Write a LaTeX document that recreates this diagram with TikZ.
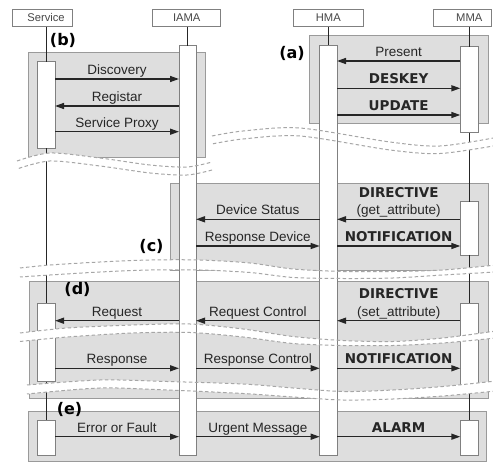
\documentclass[tikz,border=0pt]{standalone}
\usepackage{fontspec}
\setmainfont{Liberation Sans}
\newfontfamily\widefont{DejaVu Sans}
\usetikzlibrary{arrows.meta}

\definecolor{framefill}{HTML}{DEDEDE}
\definecolor{frameline}{HTML}{9A9A9A}
\definecolor{barline}{HTML}{808080}
\definecolor{ink}{HTML}{262626}
\definecolor{breakline}{HTML}{A6A6A6}

\tikzset{
  header/.style={rectangle, draw=barline, fill=white, line width=0.9pt, inner sep=0pt, outer sep=0pt,
    minimum height=17.4pt, font=\fontsize{11.2}{12}\selectfont, text=ink!85},
  hdrtext/.style={font=\fontsize{11.2}{12}\selectfont, text=ink!85, inner sep=0pt},
  phase/.style={rectangle, draw=frameline, fill=framefill, line width=0.9pt, inner sep=0pt, outer sep=0pt},
  actbar/.style={rectangle, draw=barline, fill=white, line width=0.9pt, inner sep=0pt, outer sep=0pt},
  lifeline/.style={draw=ink, line width=0.9pt},
  msg/.style={draw=ink, line width=1.4pt, -{Triangle[length=9pt,width=6pt]}},
  plainlbl/.style={font=\fontsize{13.5}{14}\selectfont, text=ink, inner sep=0pt},
  boldlbl/.style={font=\widefont\bfseries\fontsize{13.5}{14}\selectfont, text=ink, inner sep=0pt},
  phaselbl/.style={font=\widefont\bfseries\fontsize{16}{17}\selectfont, text=black, inner sep=0pt},
  gapedge/.style={draw=breakline, line width=1pt, dash pattern=on 3.5pt off 2.5pt},
}

% time-break bands: upper edge, then lower edge (reversed)
\newcommand\bandfill[2]{\fill[white] plot[smooth] coordinates {#1} -- plot[smooth] coordinates {#2} -- cycle;}
\newcommand\bandedge[2]{\draw[gapedge] plot[smooth] coordinates {#1}; \draw[gapedge] plot[smooth] coordinates {#2};}
\newcommand\allbands[1]{%
  #1{(17,161) (50,153) (100,158) (150,165) (187,167) (212,162)}%
    {(212,170) (187,175) (150,173) (100,166) (50,161) (17,169)}%
  #1{(212,136) (243,131) (300,128) (390,142) (440,146) (496,137.5)}%
    {(496,145.5) (440,153.5) (390,150) (300,136) (243,139) (212,144)}%
  #1{(20,268) (50,265) (100,262) (150,260) (200,260) (250,263) (293,269) (343,271.5) (393,271.5) (443,270) (496,265)}%
    {(496,272) (443,275) (393,278) (343,278.5) (293,277.5) (250,272.5) (200,270) (150,270) (100,272) (50,275) (20,277)}%
  #1{(20,333) (67,328) (133,325) (190,324) (243,329) (293,336.5) (343,340.5) (393,341.5) (443,338) (496,331)}%
    {(496,338) (443,343) (393,345.5) (343,345.5) (293,343.5) (243,337) (190,332.5) (133,333) (67,337) (20,341.5)}%
  #1{(27,385) (100,380) (167,381.5) (243,384) (293,388) (343,391.5) (393,390) (443,386.5) (496,381)}%
    {(496,391) (443,396) (393,399) (343,400) (293,397) (243,393.5) (167,390) (100,388) (27,394)}%
}

\begin{document}
\begin{tikzpicture}[x=1pt,y=-1pt]
\useasboundingbox (0,0) rectangle (493,462);

% phase frames
\node[phase, minimum width=178.3pt, minimum height=88pt]  (frA) at (398.85,79) {};
\node[phase, minimum width=176.7pt, minimum height=105pt] (frB) at (116.65,104.5) {};
\node[phase, minimum width=318pt,   minimum height=86.7pt] (frC) at (329,226.65) {};
\node[phase, minimum width=459pt,   minimum height=117pt] (frD) at (258.5,339.5) {};
\node[phase, minimum width=457.7pt, minimum height=49.3pt] (frE) at (257.15,436.35) {};

% participants
\node[header, minimum width=60.4pt] (svcH) at (42.5,18) {};
\node[hdrtext] (svcT) at (46,18) {Service};
\node[header, minimum width=68pt] (iamaH) at (186.7,18) {IAMA};
\node[header, minimum width=70.7pt] (hmaH) at (328.3,18) {HMA};
\node[header, minimum width=57.8pt] (mmaH) at (462.6,18) {};
\node[hdrtext] (mmaT) at (469.3,18) {MMA};

% short activations
\node[actbar, minimum width=18pt, minimum height=86.6pt] (svcB) at (46,105) {};
\node[actbar, minimum width=18pt, minimum height=78.4pt] (svcD) at (46,342.5) {};
\node[actbar, minimum width=18pt, minimum height=35pt]   (svcE) at (46,437.5) {};
\node[actbar, minimum width=18pt, minimum height=86pt]   (mmaA) at (469.3,89.7) {};
\node[actbar, minimum width=18pt, minimum height=53.3pt] (mmaC) at (469.3,228.35) {};
\node[actbar, minimum width=18pt, minimum height=81.7pt] (mmaD) at (469.3,344.15) {};
\node[actbar, minimum width=18pt, minimum height=35pt]   (mmaE) at (469.3,437.5) {};

% lifelines between activations
\draw[lifeline] (svcB |- svcH.south) -- (svcB.north);
\draw[lifeline] (svcB.south) -- (svcD.north);
\draw[lifeline] (svcD.south) -- (svcE.north);
\draw[lifeline] (mmaA |- mmaH.south) -- (mmaA.north);
\draw[lifeline] (mmaA.south) -- (mmaC.north);
\draw[lifeline] (mmaC.south) -- (mmaD.north);
\draw[lifeline] (mmaD.south) -- (mmaE.north);

% white gaps of the time breaks
\allbands\bandfill

% long activations of the agents
\node[actbar, minimum width=17pt,   minimum height=409.3pt] (iamaBar) at (187.5,250.35) {};
\node[actbar, minimum width=17.3pt, minimum height=410pt]   (hmaBar)  at (328.35,250) {};
\draw[lifeline] (iamaBar |- iamaH.south) -- (iamaBar.north);
\draw[lifeline] (hmaBar |- hmaH.south) -- (hmaBar.north);

% message rows
\coordinate (mA1) at (0,61);   \coordinate (mA2) at (0,88.3); \coordinate (mA3) at (0,115);
\coordinate (mB1) at (0,79);   \coordinate (mB2) at (0,106);  \coordinate (mB3) at (0,131.7);
\coordinate (mC1) at (0,219.3); \coordinate (mC2) at (0,246);
\coordinate (mD1) at (0,320.7); \coordinate (mD2) at (0,368.3);
\coordinate (mE1) at (0,436.7);

% (a) presence
\draw[msg] (mmaA.west |- mA1) -- (hmaBar.east |- mA1) node[plainlbl, midway, anchor=base, yshift=4.5pt] {Present};
\draw[msg] (hmaBar.east |- mA2) -- (mmaA.west |- mA2) node[boldlbl, midway, anchor=base, yshift=4.5pt] {DESKEY};
\draw[msg] (hmaBar.east |- mA3) -- (mmaA.west |- mA3) node[boldlbl, midway, anchor=base, yshift=4.5pt] {UPDATE};

% (b) service registration
\draw[msg] (svcB.east |- mB1) -- (iamaBar.west |- mB1) node[plainlbl, midway, anchor=base, yshift=4.5pt] {Discovery};
\draw[msg] (iamaBar.west |- mB2) -- (svcB.east |- mB2) node[plainlbl, midway, anchor=base, yshift=4.5pt] {Registar};
\draw[msg] (svcB.east |- mB3) -- (iamaBar.west |- mB3) node[plainlbl, midway, anchor=base, yshift=4.5pt] {Service Proxy};

% (c) status query
\draw[msg] (hmaBar.west |- mC1) -- (iamaBar.east |- mC1) node[plainlbl, midway, anchor=base, yshift=4.5pt] {Device Status};
\draw[msg] (mmaC.west |- mC1) -- (hmaBar.east |- mC1)
  node[plainlbl, midway, anchor=base, yshift=4.5pt] {(get\_attribute)}
  node[boldlbl, midway, anchor=base, yshift=22pt] {DIRECTIVE};
\draw[msg] (iamaBar.east |- mC2) -- (hmaBar.west |- mC2) node[plainlbl, midway, anchor=base, yshift=4.5pt] {Response Device};
\draw[msg] (hmaBar.east |- mC2) -- (mmaC.west |- mC2) node[boldlbl, midway, anchor=base, yshift=4.5pt] {NOTIFICATION};

% (d) control
\draw[msg] (iamaBar.west |- mD1) -- (svcD.east |- mD1) node[plainlbl, midway, anchor=base, yshift=4.5pt] {Request};
\draw[msg] (hmaBar.west |- mD1) -- (iamaBar.east |- mD1) node[plainlbl, midway, anchor=base, yshift=4.5pt] {Request Control};
\draw[msg] (mmaD.west |- mD1) -- (hmaBar.east |- mD1)
  node[plainlbl, midway, anchor=base, yshift=4.5pt] {(set\_attribute)}
  node[boldlbl, midway, anchor=base, yshift=22pt] {DIRECTIVE};
\draw[msg] (svcD.east |- mD2) -- (iamaBar.west |- mD2) node[plainlbl, midway, anchor=base, yshift=4.5pt] {Response};
\draw[msg] (iamaBar.east |- mD2) -- (hmaBar.west |- mD2) node[plainlbl, midway, anchor=base, yshift=4.5pt] {Response Control};
\draw[msg] (hmaBar.east |- mD2) -- (mmaD.west |- mD2) node[boldlbl, midway, anchor=base, yshift=4.5pt] {NOTIFICATION};

% (e) alarm
\draw[msg] (svcE.east |- mE1) -- (iamaBar.west |- mE1) node[plainlbl, midway, anchor=base, yshift=4.5pt] {Error or Fault};
\draw[msg] (iamaBar.east |- mE1) -- (hmaBar.west |- mE1) node[plainlbl, midway, anchor=base, yshift=4.5pt] {Urgent Message};
\draw[msg] (hmaBar.east |- mE1) -- (mmaE.west |- mE1) node[boldlbl, midway, anchor=base, yshift=4.5pt] {ALARM};

% dashed edges of the time breaks
\allbands\bandedge

% phase tags
\node[phaselbl] (tagA) at (292,53) {(a)};
\node[phaselbl] (tagB) at (63,40) {(b)};
\node[phaselbl] (tagC) at (151.5,246.5) {(c)};
\node[phaselbl] (tagD) at (77.5,289.5) {(d)};
\node[phaselbl] (tagE) at (69.5,409.5) {(e)};
\end{tikzpicture}
\end{document}
